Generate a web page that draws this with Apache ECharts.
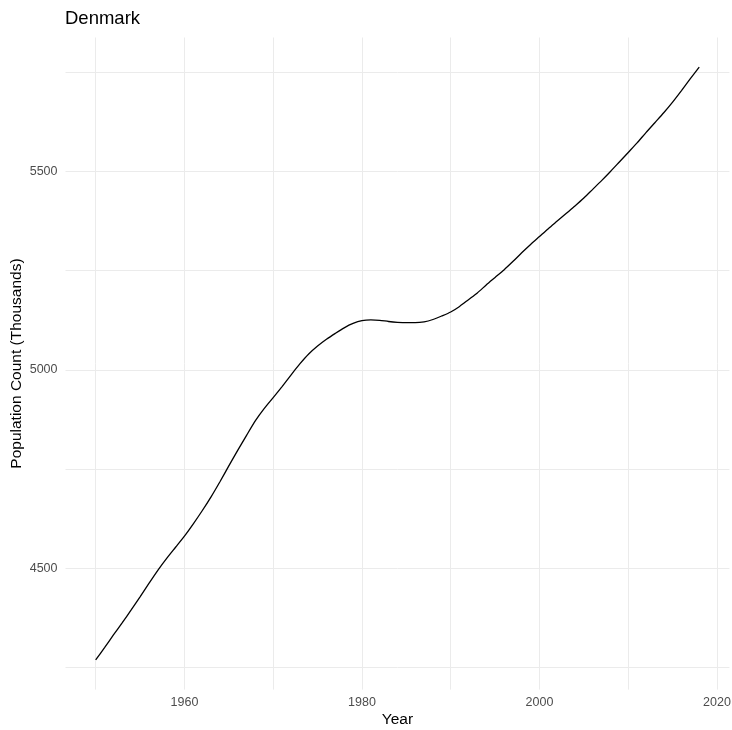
<!DOCTYPE html>
<html>
<head>
<meta charset="utf-8">
<script src="https://cdn.jsdelivr.net/npm/echarts@6/dist/echarts.min.js"></script>
<style>
html,body{margin:0;padding:0;background:#fff;}
#chart{width:732px;height:730px;}
</style>
</head>
<body>
<div id="chart"></div>
<script>
const years = [1950,1951,1952,1953,1954,1955,1956,1957,1958,1959,
  1960,1961,1962,1963,1964,1965,1966,1967,1968,1969,
  1970,1971,1972,1973,1974,1975,1976,1977,1978,1979,
  1980,1981,1982,1983,1984,1985,1986,1987,1988,1989,
  1990,1991,1992,1993,1994,1995,1996,1997,1998,1999,
  2000,2001,2002,2003,2004,2005,2006,2007,2008,2009,
  2010,2011,2012,2013,2014,2015,2016,2017,2018];
const population = [4269,4300,4332,4363,4395,4428,4462,4495,4525,4553,
  4581,4612,4645,4680,4718,4758,4797,4835,4872,4903,
  4930,4958,4987,5015,5040,5060,5077,5092,5106,5117,
  5124,5126,5125,5122,5120,5119,5119,5121,5127,5136,
  5146,5160,5177,5194,5214,5233,5252,5273,5295,5316,
  5336,5356,5375,5394,5413,5433,5455,5477,5500,5524,
  5548,5572,5598,5623,5648,5675,5704,5734,5763];
const xGridTicks = [1950,1960,1970,1980,1990,2000,2010,2020];
const xLabelTicks = [1960,1980,2000,2020];
const yGridTicks = [4250,4500,4750,5000,5250,5500,5750];
const yLabelTicks = [4500,5000,5500];
const titleText = 'Denmark';
const xTitle = 'Year';
const yTitle = 'Population Count (Thousands)';

const font = '"Liberation Sans", Arial, sans-serif';
const chart = echarts.init(document.getElementById('chart'), null, {renderer:'canvas'});
chart.setOption({
  animation:false,
  backgroundColor:'#ffffff',
  title:{
    text:titleText, left:65, top:9, padding:0,
    textStyle:{fontFamily:font, fontSize:18.5, fontWeight:'normal', color:'#000000'}
  },
  grid:{left:65.5, right:2.6, top:37.5, bottom:40.4, containLabel:false, outerBoundsMode:'none'},
  xAxis:{
    type:'value', min:1946.6, max:2021.4,
    name:xTitle, nameLocation:'middle', nameGap:22, nameMoveOverlap:false,
    nameTextStyle:{fontFamily:font, fontSize:15.5, color:'#000000'},
    axisLine:{show:false},
    axisTick:{show:false, customValues:xGridTicks},
    axisLabel:{customValues:xLabelTicks, margin:6, fontFamily:font, fontSize:12.5, color:'#4D4D4D',
      formatter:v=>String(v)},
    splitLine:{show:true, lineStyle:{color:'#EBEBEB', width:1}}
  },
  yAxis:{
    type:'value', min:4194.3, max:5837.7,
    name:yTitle, nameLocation:'middle', nameGap:41, nameRotate:90, nameMoveOverlap:false,
    nameTextStyle:{fontFamily:font, fontSize:15.5, color:'#000000'},
    axisLine:{show:false},
    axisTick:{show:false, customValues:yGridTicks},
    axisLabel:{customValues:yLabelTicks, margin:8, fontFamily:font, fontSize:12.5, color:'#4D4D4D',
      formatter:v=>String(v)},
    splitLine:{show:true, lineStyle:{color:'#EBEBEB', width:1}}
  },
  series:[{
    type:'line',
    data:years.map((y,i)=>[y, population[i]]),
    showSymbol:false, symbol:'none',
    smooth:0.25,
    lineStyle:{color:'#000000', width:1.3},
    clip:false
  }]
});
</script>
</body>
</html>
